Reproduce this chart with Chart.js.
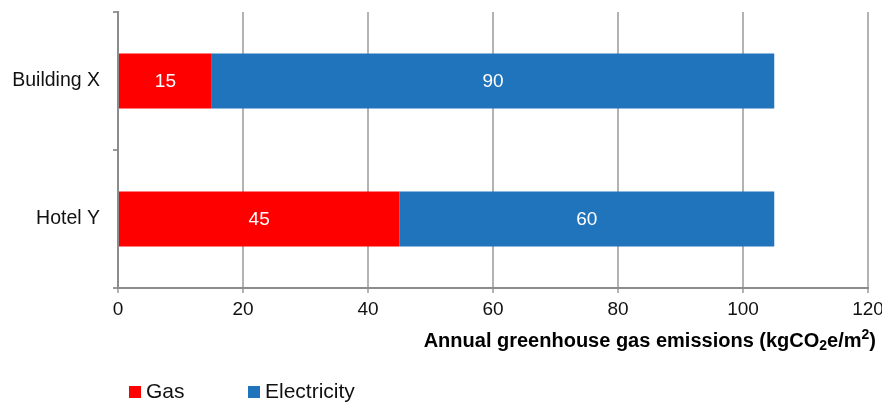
<!DOCTYPE html>
<html>
<head>
<meta charset="utf-8">
<script src="https://cdn.jsdelivr.net/npm/chart.js@4"></script>
<style>
  body { margin:0; background:#fff; font-family:"Liberation Sans", Arial, sans-serif; }
  #wrap { position:relative; width:882px; height:405px; }
  #legend { position:absolute; left:129px; top:379px; font-size:21px; line-height:24px; color:#111; white-space:nowrap; }
  #legend span.it { display:inline-block; }
  #legend i { display:inline-block; width:12px; height:12px; margin-right:5px; vertical-align:0px; }
</style>
</head>
<body>
<div id="wrap">
  <canvas id="myChart" width="882" height="405"></canvas>
  <div id="legend"></div>
</div>
<script>
var categories = ["Building X", "Hotel Y"];
var gas = [15, 45];
var electricity = [90, 60];
var seriesNames = ["Gas", "Electricity"];
var seriesColors = ["#ff0000", "#1f74bb"];
var FONT = '"Liberation Sans", Arial, sans-serif';

// white value labels inside each segment
var barLabels = {
  id: 'barLabels',
  afterDatasetsDraw: function(chart) {
    var ctx = chart.ctx;
    ctx.save();
    ctx.fillStyle = '#fff';
    ctx.font = '19px ' + FONT;
    ctx.textAlign = 'center';
    ctx.textBaseline = 'middle';
    chart.data.datasets.forEach(function(ds, i) {
      chart.getDatasetMeta(i).data.forEach(function(bar, j) {
        var p = bar.getProps(['x', 'base', 'y']);
        ctx.fillText(ds.data[j], (p.x + p.base) / 2, p.y + 1);
      });
    });
    ctx.restore();
  }
};

// axis title with sub/superscript, right aligned to plot area
var xTitle = {
  id: 'xTitle',
  afterDraw: function(chart) {
    var ctx = chart.ctx;
    var right = chart.chartArea.right + 8;
    var y = 341;
    var parts = [
      ['Annual greenhouse gas emissions (kgCO', 20, 0],
      ['2', 14, 5],
      ['e/m', 20, 0],
      ['2', 14, -6],
      [')', 20, 0]
    ];
    ctx.save();
    ctx.fillStyle = '#000';
    ctx.textBaseline = 'middle';
    var total = 0;
    parts.forEach(function(p) {
      ctx.font = 'bold ' + p[1] + 'px ' + FONT;
      total += ctx.measureText(p[0]).width;
    });
    var x = right - total;
    ctx.textAlign = 'left';
    parts.forEach(function(p) {
      ctx.font = 'bold ' + p[1] + 'px ' + FONT;
      ctx.fillText(p[0], x, y + p[2]);
      x += ctx.measureText(p[0]).width;
    });
    ctx.restore();
  }
};

var ctx = document.getElementById("myChart");
var myChart = new Chart(ctx, {
  type: 'bar',
  plugins: [barLabels, xTitle],
  data: {
    labels: categories,
    datasets: [
      { label: seriesNames[0], data: gas, backgroundColor: seriesColors[0] },
      { label: seriesNames[1], data: electricity, backgroundColor: seriesColors[1] }
    ]
  },
  options: {
    indexAxis: 'y',
    responsive: false,
    animation: false,
    layout: { padding: { top: 12, right: 14, left: 0, bottom: 0 } },
    plugins: { legend: { display: false }, tooltip: { enabled: false } },
    datasets: { bar: { categoryPercentage: 1, barPercentage: 0.4 } },
    scales: {
      x: {
        stacked: true,
        min: 0,
        max: 120,
        ticks: { stepSize: 20, color: '#111', padding: 5, maxRotation: 0,
                 font: { size: 19, family: FONT } },
        grid: { color: '#b3b3b3', lineWidth: 2, tickLength: 5 },
        border: { color: '#8c8c8c', width: 2 },
        afterFit: function(s) { s.height = 117; s.paddingLeft = 0; s.paddingRight = 0; }
      },
      y: {
        stacked: true,
        ticks: { color: '#111', padding: 13,
                 font: { size: 19.5, family: FONT } },
        grid: { drawOnChartArea: false, offset: true, tickLength: 5, lineWidth: 2, color: '#9a9a9a' },
        border: { color: '#8c8c8c', width: 2 },
        afterFit: function(s) { s.width = 118; s.paddingTop = 0; s.paddingBottom = 0; }
      }
    }
  }
});

var lg = document.getElementById('legend');
seriesNames.forEach(function(n, i) {
  lg.innerHTML += '<span class="it" style="width:' + (i == 0 ? 119 : 150) + 'px"><i style="background:' + seriesColors[i] + '"></i>' + n + '</span>';
});
</script>
</body>
</html>
